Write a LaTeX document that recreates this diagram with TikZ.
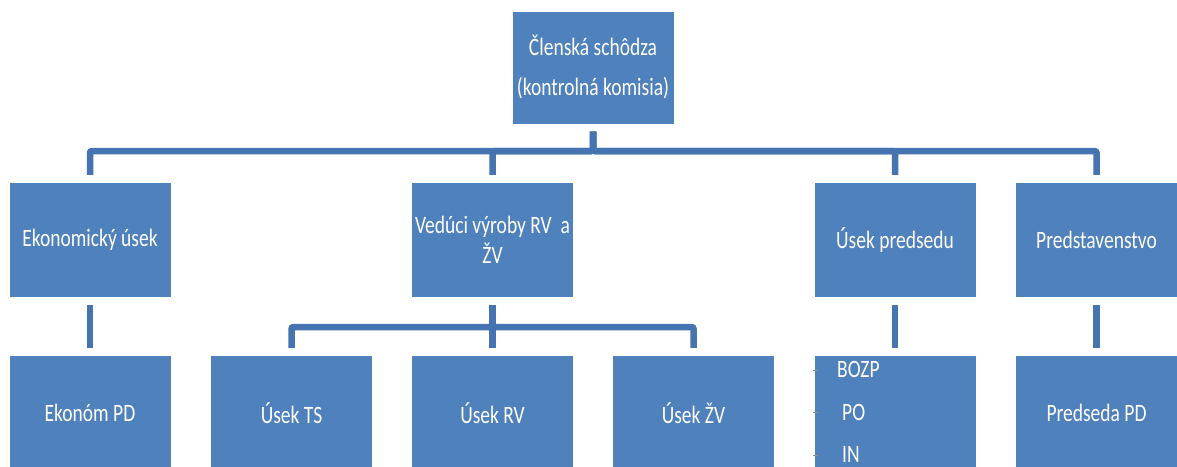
\documentclass[tikz,border=0pt]{standalone}
\usepackage{fontspec}
\setmainfont{Carlito}[FakeStretch=0.78]
\usetikzlibrary{calc}
\definecolor{boxblue}{HTML}{4F81BD}
\definecolor{lineblue}{HTML}{4674B0}
\definecolor{bulletgray}{HTML}{8C8C8C}
\tikzset{
  box/.style={draw=none, fill=boxblue, text=white, minimum width=161pt, minimum height=114pt, inner sep=0pt, align=center, font=\fontsize{25}{30}\selectfont},
  conn/.style={draw=lineblue, line width=6.5pt, rounded corners=2pt, shorten <=8pt, shorten >=8pt},
  item/.style={text=white, anchor=west, inner sep=0pt, font=\fontsize{25}{30}\selectfont},
  bullet/.style={draw=bulletgray, line width=1pt}
}
\begin{document}
\begin{tikzpicture}[x=1pt,y=-1pt]
\useasboundingbox (0,0) rectangle (1177,466);
\clip (0,0) rectangle (1177,466);
\fill[white] (0,0) rectangle (1177,466);
% level 1
\node[box, minimum height=112pt, font=\fontsize{25}{40}\selectfont] (top) at (593,67.5) {Členská schôdza\\(kontrolná komisia)};
% level 2
\node[box] (eko) at (90,240) {Ekonomický úsek};
\node[box] (ved) at (492.5,240) {Vedúci výroby RV\ \ a\\ŽV};
\node[box] (usp) at (895,240) {Úsek predsedu};
\node[box] (pre) at (1096.5,240) {Predstavenstvo};
% level 3
\node[box] (ekp) at (90,413) {Ekonóm PD};
\node[box] (ts) at (291.5,413) {Úsek TS};
\node[box] (rv) at (492.5,413) {Úsek RV};
\node[box] (zv) at (693.5,413) {Úsek ŽV};
\node[box] (boz) at (895,413) {};
\node[box] (prp) at (1096.5,413) {Predseda PD};
% bullet items
\node[item] (i1) at (837,369) {BOZP};
\node[item] (i2) at (842,412) {PO};
\node[item] (i3) at (842,454) {IN};
\draw[bullet] (813,370) -- (818,370);
\draw[bullet] (813,412) -- (818,412);
\draw[bullet] (813,455) -- (818,455);
% bus coordinates
\coordinate (bus1) at (593,151);
\coordinate (bus2) at (492.5,327);
% connectors level 1 -> 2
\draw[conn] (top.south) -- (bus1) -| (eko.north);
\draw[conn] (top.south) -- (bus1) -| (ved.north);
\draw[conn] (top.south) -- (bus1) -| (usp.north);
\draw[conn] (top.south) -- (bus1) -| (pre.north);
% connectors level 2 -> 3
\draw[conn] (eko.south) -- (ekp.north);
\draw[conn] (ved.south) -- (bus2) -| (ts.north);
\draw[conn] (ved.south) -- (bus2) -| (rv.north);
\draw[conn] (ved.south) -- (bus2) -| (zv.north);
\draw[conn] (usp.south) -- (boz.north);
\draw[conn] (pre.south) -- (prp.north);
\end{tikzpicture}
\end{document}
